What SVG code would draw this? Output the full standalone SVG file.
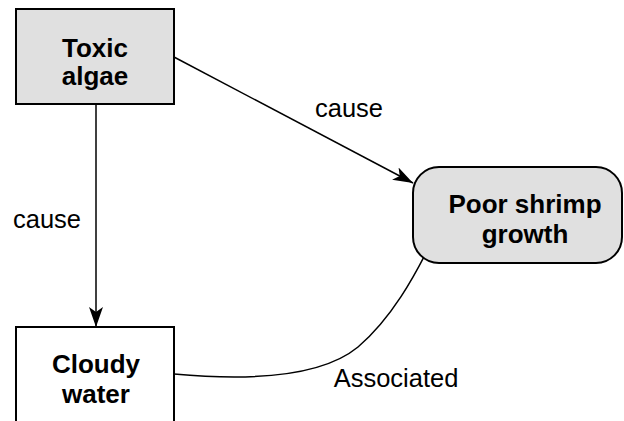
<svg xmlns="http://www.w3.org/2000/svg" width="624" height="421" viewBox="0 0 624 421">
<style>
.box{fill:#e0e0e0;stroke:#000;stroke-width:2}
.wbox{fill:#fff;stroke:#000;stroke-width:2}
.lbl{font-family:"Liberation Sans",Arial,sans-serif;font-size:26px;font-weight:bold;text-anchor:middle;fill:#000}
.elbl{font-family:"Liberation Sans",Arial,sans-serif;font-size:25.5px;text-anchor:middle;fill:#000}
.edge{fill:none;stroke:#000;stroke-width:1.5}
</style>
<defs>
<marker id="arr" viewBox="0 0 20 14" refX="20" refY="7" markerWidth="20" markerHeight="14" markerUnits="userSpaceOnUse" orient="auto">
<path d="M0,0 L20,7 L0,14 L5,7 Z" fill="#000"/>
</marker>
</defs>
<rect width="624" height="421" fill="#fff"/>
<g id="edges">
<path class="edge" d="M96,104 L96,327" marker-end="url(#arr)"/>
<path class="edge" d="M174,57 L413,183" marker-end="url(#arr)"/>
<path class="edge" d="M174,374 C240,380 318,380 358,347 C392,318 415,275 429,247"/>
<text class="elbl" x="349" y="117">cause</text>
<text class="elbl" x="47" y="228">cause</text>
<text class="elbl" x="396" y="387">Associated</text>
</g>
<g id="toxic-algae">
<rect class="box" x="16" y="9" width="158" height="95"/>
<text class="lbl" x="95" y="57">Toxic</text>
<text class="lbl" x="95" y="85">algae</text>
</g>
<g id="poor-shrimp-growth">
<rect class="box" x="413" y="167" width="209" height="96" rx="26" ry="26"/>
<text class="lbl" x="525" y="213">Poor shrimp</text>
<text class="lbl" x="525" y="243">growth</text>
</g>
<g id="cloudy-water">
<rect class="wbox" x="16" y="327" width="158" height="110"/>
<text class="lbl" x="96" y="373">Cloudy</text>
<text class="lbl" x="96" y="403">water</text>
</g>
</svg>
